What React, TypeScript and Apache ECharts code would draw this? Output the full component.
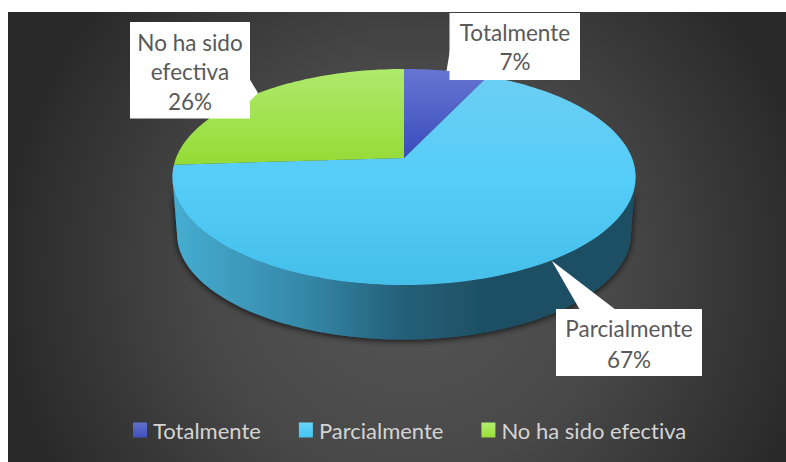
import React, { useEffect, useRef } from "react";
import * as echarts from "echarts";

const categories = ["Totalmente", "Parcialmente", "No ha sido efectiva"];
const values = [7, 67, 26];
const labelLines = [["Totalmente"], ["Parcialmente"], ["No ha sido", "efectiva"]];

const FONT = "Lato, 'Noto Sans', sans-serif";

const topStops = [
  ["#6675d2", "#3a4cbc"],
  ["#6ccef3", "#54cdf9", "#44bfea"],
  ["#afea6c", "#95db36"],
];
const legendStops = [
  ["#6070cc", "#3f50bf"],
  ["#66d6fb", "#45c4f2"],
  ["#b0f06c", "#98dd38"],
];

const APEX_X = 404;
const APEX_Y = 158;
const AX = 228;
const BY = 104.7;
const K = 0.176;

function grad(stops: string[]) {
  return new echarts.graphic.LinearGradient(
    0, 0, 0, 1,
    stops.map((color, i) => ({ offset: i / (stops.length - 1), color }))
  );
}

function project(deg: number, ox = APEX_X, oy = APEX_Y, s = 1) {
  const a = (deg * Math.PI) / 180;
  const u = Math.sin(a);
  const v = Math.cos(a);
  const d = 1 + K * v;
  return [ox + (s * AX * u) / d, oy - (s * BY * v) / d];
}

function arc(from: number, to: number, ox?: number, oy?: number, s?: number) {
  const n = Math.max(2, Math.ceil(Math.abs(to - from) / 1.5));
  const pts: number[][] = [];
  for (let i = 0; i <= n; i++) pts.push(project(from + ((to - from) * i) / n, ox, oy, s));
  return pts;
}

const total = values.reduce((a, b) => a + b, 0);
const sliceRange = (i: number) => {
  const before = values.slice(0, i).reduce((a, b) => a + b, 0);
  return [(before / total) * 360, ((before + values[i]) / total) * 360];
};

const labelBoxes = [
  { x: 449.5, y: 13, w: 130.5, h: 67, cx: 515, ys: [32.5, 61.5], wedge: [[450, 50], [446.5, 71], [450, 71]] },
  { x: 556, y: 309, w: 146, h: 67, cx: 629, ys: [328.5, 359], wedge: [[580, 310], [551.7, 260.7], [616, 310]] },
  { x: 130, y: 22, w: 120, h: 96.5, cx: 190, ys: [42, 71.5, 101], wedge: [[249, 78], [258, 93], [249, 102]] },
];

function sliceRenderer(i: number) {
  return () => {
    const [from, to] = sliceRange(i);
    const children: any[] = [];
    if (i === 1) {
      const a = Math.max(from, 100);
      const b = Math.min(to, 260);
      const pts = [...arc(a, b), ...arc(b, a, APEX_X, 215, 0.98)];
      children.push({
        type: "polygon",
        shape: { points: pts },
        style: {
          fill: new echarts.graphic.LinearGradient(0, 0, 1, 0, [
            { offset: 0, color: "#46add1" },
            { offset: 0.28, color: "#3589a9" },
            { offset: 0.5, color: "#245f78" },
            { offset: 0.68, color: "#1e4f63" },
            { offset: 1, color: "#1f5064" },
          ]),
          shadowBlur: 7,
          shadowColor: "rgba(0,0,0,0.85)",
          shadowOffsetY: 1,
        },
      });
    }
    children.push({
      type: "polygon",
      shape: { points: [[APEX_X, APEX_Y], ...arc(from, to)] },
      style: { fill: grad(topStops[i]) },
    });
    return { type: "group", children };
  };
}

function labelRenderer(params: any) {
  const i = params.dataIndex;
  const box = labelBoxes[i];
  const lines = [...labelLines[i], `${values[i]}%`];
  return {
    type: "group",
    children: [
      { type: "polygon", shape: { points: box.wedge }, style: { fill: "#ffffff" } },
      { type: "rect", shape: { x: box.x, y: box.y, width: box.w, height: box.h }, style: { fill: "#ffffff" } },
      ...lines.map((t, k) => ({
        type: "text",
        x: box.cx,
        y: box.ys[k],
        style: {
          text: t,
          fill: "#595959",
          font: `400 22.5px ${FONT}`,
          align: "center",
          verticalAlign: "middle",
        },
      })),
    ],
  };
}

export default function App() {
  const ref = useRef<HTMLDivElement>(null);
  useEffect(() => {
    const chart = echarts.init(ref.current!, undefined, { renderer: "svg", width: 786, height: 462 });
    chart.setOption({
      animation: false,
      backgroundColor: "#ffffff",
      graphic: [
        {
          type: "rect",
          z: -10,
          silent: true,
          shape: { x: 8, y: 12, width: 778, height: 450 },
          style: {
            fill: new echarts.graphic.RadialGradient(
              410, 270, 410,
              [
                { offset: 0, color: "#565656" },
                { offset: 0.5, color: "#484848" },
                { offset: 1, color: "#292929" },
              ],
              true
            ),
          },
        },
      ],
      legend: {
        left: 133,
        top: 419,
        padding: 0,
        icon: "rect",
        itemWidth: 14,
        itemHeight: 15,
        itemGap: 38,
        textStyle: { color: "#d4d4d4", fontSize: 22, fontFamily: FONT, padding: [0, 0, 0, 1] },
        data: categories.map((name, i) => ({ name, itemStyle: { color: grad(legendStops[i]) } })),
      },
      series: [
        ...[1, 0, 2].map((i) => ({
          type: "custom",
          name: categories[i],
          coordinateSystem: "none",
          silent: true,
          z: 2,
          itemStyle: { color: topStops[i][0] },
          data: [[values[i]]],
          renderItem: sliceRenderer(i),
        })),
        {
          type: "custom",
          name: "labels",
          coordinateSystem: "none",
          silent: true,
          z: 5,
          data: values.map((v) => [v]),
          renderItem: labelRenderer,
        },
      ],
    });
    return () => chart.dispose();
  }, []);
  return (
    <div
      ref={ref}
      style={{
        position: "absolute",
        left: 0,
        top: 0,
        width: 786,
        height: 462,
        overflow: "hidden",
        fontVariantLigatures: "none",
      }}
    />
  );
}
